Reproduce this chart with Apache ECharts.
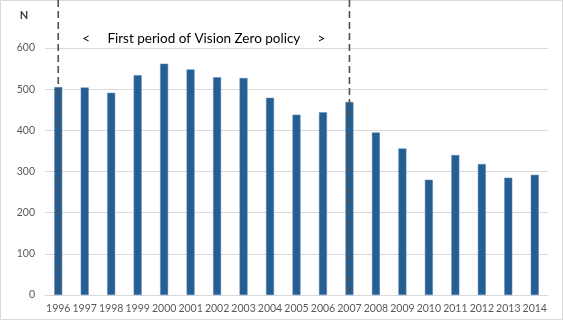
<!DOCTYPE html>
<html>
<head>
<meta charset="utf-8">
<script src="https://cdn.jsdelivr.net/npm/echarts@6/dist/echarts.min.js"></script>
<style>
  html, body { margin: 0; padding: 0; background: #fff; }
  #chart { width: 564px; height: 321px; }
</style>
</head>
<body>
<div id="chart"></div>
<script>
// Yearly counts, 1996-2014
const years = ['1996','1997','1998','1999','2000','2001','2002','2003','2004','2005',
               '2006','2007','2008','2009','2010','2011','2012','2013','2014'];
const counts = [505, 504, 491, 534, 562, 548, 529, 527, 479, 438,
                444, 469, 395, 356, 280, 340, 318, 285, 292];
const yTicks = { min: 0, max: 600, step: 100 };
// Policy period boundaries and its caption
const periodStart = '1996';
const periodEnd = '2007';
const periodCaption = '<     First period of Vision Zero policy     >';
const yAxisName = 'N';

const FONT = 'Lato, "Open Sans", sans-serif';
const chart = echarts.init(document.getElementById('chart'), null, { renderer: 'canvas' });

chart.setOption({
  animation: false,
  backgroundColor: '#ffffff',
  grid: { left: 45, right: 16, top: 48, bottom: 26, containLabel: false },
  xAxis: {
    type: 'category',
    data: years,
    axisLine: { lineStyle: { color: '#d9d9d9', width: 1 } },
    axisTick: { show: false },
    axisLabel: { color: '#595959', fontSize: 10.5, fontFamily: FONT, margin: 8, interval: 0 }
  },
  yAxis: {
    type: 'value',
    min: yTicks.min,
    max: yTicks.max,
    interval: yTicks.step,
    axisLine: { show: false },
    axisTick: { show: false },
    splitLine: { lineStyle: { color: '#d9d9d9', width: 1 } },
    axisLabel: { color: '#595959', fontSize: 10.5, fontFamily: FONT, margin: 10 }
  },
  series: [{
    type: 'bar',
    data: counts,
    barWidth: 8,
    itemStyle: { color: '#255e91', borderColor: '#5b8bbd', borderWidth: 0.5 }
  }]
});

// Annotations placed through the axis scales
const xs = chart.convertToPixel({ xAxisIndex: 0 }, periodStart);
const xe = chart.convertToPixel({ xAxisIndex: 0 }, periodEnd);
const yBase = chart.convertToPixel({ yAxisIndex: 0 }, 0);
const yCap = chart.convertToPixel({ yAxisIndex: 0 }, 623);
const dash = { stroke: '#505050', lineWidth: 1.6, lineDash: [7, 4] };

chart.setOption({
  graphic: [
    { type: 'rect', shape: { x: 0.5, y: 0.5, width: 562, height: 319 },
      style: { fill: 'none', stroke: '#d9d9d9', lineWidth: 1 }, z: 10 },
    { type: 'line', shape: { x1: xs, y1: 0, x2: xs, y2: yBase }, style: dash, z: 20 },
    { type: 'line', shape: { x1: xe, y1: 0, x2: xe, y2: yBase }, style: dash, z: 20 },
    { type: 'text', x: (xs + xe) / 2, y: yCap,
      style: { text: periodCaption, fill: '#000000', font: '13.5px ' + FONT,
               textAlign: 'center', textVerticalAlign: 'middle' }, z: 20 },
    { type: 'text', x: 24, y: 15,
      style: { text: yAxisName, fill: '#404040', font: 'bold 11px ' + FONT,
               textAlign: 'center', textVerticalAlign: 'middle' }, z: 20 }
  ]
});
</script>
</body>
</html>
